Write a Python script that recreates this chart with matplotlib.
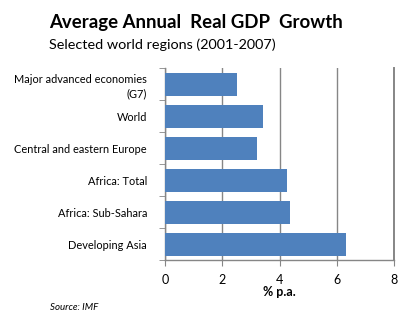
import numpy as np
import matplotlib
matplotlib.use("Agg")
import matplotlib.pyplot as plt

regions = [
    "Major advanced economies\n(G7)",
    "World",
    "Central and eastern Europe",
    "Africa: Total",
    "Africa: Sub-Sahara",
    "Developing Asia",
]
growth = [2.5, 3.4, 3.2, 4.25, 4.35, 6.3]
x_ticks = [0, 2, 4, 6, 8]

BAR_COLOR = "#4F81BD"
GRID_COLOR = "#868686"
FONT = "Lato"

plt.rcParams["font.family"] = [FONT, "DejaVu Sans"]

fig = plt.figure(figsize=(4.2, 3.26), dpi=100)
ax = fig.add_axes([0.393, 0.2025, 0.546, 0.588])

y = np.arange(len(regions))
ax.barh(y, growth, height=0.72, color=BAR_COLOR, zorder=3)
ax.set_ylim(len(regions) - 0.5, -0.5)
ax.set_xlim(0, 8)

ax.set_xticks(x_ticks)
ax.set_xticklabels([str(t) for t in x_ticks], fontsize=9)
ax.set_yticks(y)
ax.set_yticklabels(regions, fontsize=7.9, linespacing=1.35)
ax.set_yticks(np.arange(len(regions) + 1) - 0.5, minor=True)

ax.tick_params(axis="y", which="major", length=0, pad=13)
ax.tick_params(axis="y", which="minor", length=4, color=GRID_COLOR, direction="out")
ax.tick_params(axis="x", length=4, color=GRID_COLOR, direction="out", pad=6)
for lbl in ax.get_yticklabels():
    lbl.set_horizontalalignment("right")

ax.grid(axis="x", color=GRID_COLOR, linewidth=1.0, zorder=0)
ax.spines["top"].set_visible(False)
ax.spines["right"].set_visible(True)
ax.spines["right"].set_color(GRID_COLOR)
ax.spines["right"].set_linewidth(1.4)
for side in ("left", "bottom"):
    ax.spines[side].set_color(GRID_COLOR)
    ax.spines[side].set_linewidth(1.0)

ax.set_xlabel("% p.a.", fontsize=9, fontweight="bold", labelpad=0)

fig.text(0.117, 0.93, "Average Annual  Real GDP  Growth",
         fontsize=13.4, fontweight="bold", va="center")
fig.text(0.117, 0.862, "Selected world regions (2001-2007)",
         fontsize=10.4, va="center")
fig.text(0.119, 0.058, "Source: IMF", fontsize=7, style="italic", va="center")

fig.savefig("out.png", dpi=100)
